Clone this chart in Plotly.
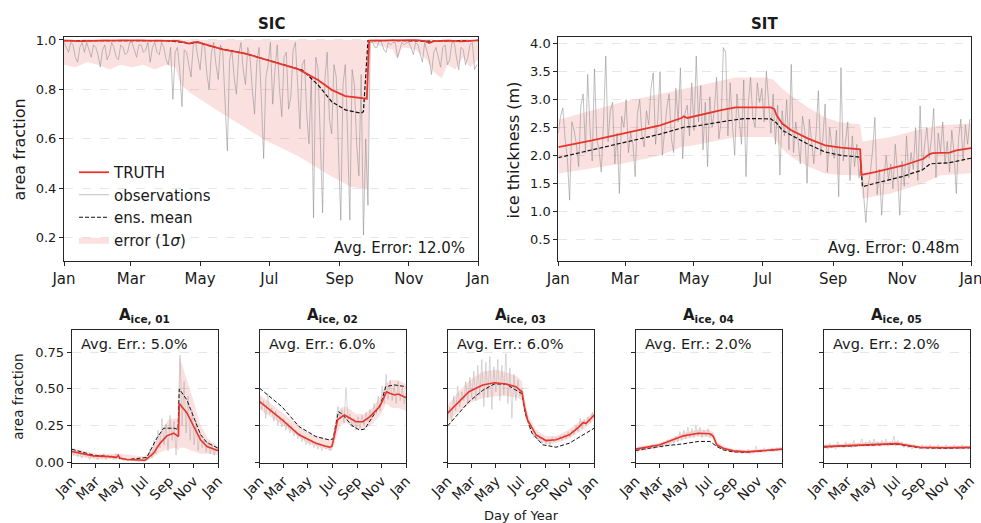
import plotly.graph_objects as go

W, H = 981, 523

MONTH_TICKS = [0, 59, 120, 181, 243, 304, 365]
MONTH_LABELS = ["Jan", "Mar", "May", "Jul", "Sep", "Nov", "Jan"]

# ---------------- SIC (top left) ----------------
SIC_OBS = [0.99, 0.97, 0.95, 0.99, 0.98, 0.93, 0.91, 0.97, 0.99, 0.95,
           0.99, 0.96, 0.93, 0.98, 0.97, 0.94, 0.89, 0.96, 0.98, 0.92,
           0.94, 0.99, 0.97, 0.93, 0.92, 0.98, 0.97, 0.94, 0.95, 0.99,
           0.99, 0.96, 0.93, 0.98, 0.98, 0.95, 0.96, 0.99, 0.91, 0.97,
           0.99, 0.95, 0.94, 0.99, 0.97, 0.92, 0.90, 0.97, 0.76,
           0.95, 0.97, 0.88, 0.73, 0.96, 0.95, 0.90, 0.85, 0.98, 0.99,
           0.93, 0.88, 0.99, 0.97, 0.86, 0.80, 0.95, 0.99, 0.90, 0.84,
           0.98, 0.95, 0.75, 0.55, 0.92, 0.96, 0.85, 0.78, 0.94, 0.99,
           0.88, 0.82, 0.97, 0.93, 0.80, 0.70, 0.91, 0.97, 0.76, 0.52,
           0.85, 0.90, 0.99, 0.74, 0.88, 0.98, 0.80, 0.69, 0.93, 0.95,
           0.72, 0.77, 0.96, 0.99, 0.82, 0.64, 0.90, 0.92, 0.70, 0.58,
           0.85, 0.28, 0.93, 0.88, 0.60, 0.30, 0.84, 0.95, 0.68, 0.62,
           0.90, 0.85, 0.55, 0.27, 0.82, 0.90, 0.62, 0.27, 0.88, 0.82,
           0.58, 0.45, 0.86, 0.21, 0.60, 0.33,
           0.99, 0.99, 0.97, 0.97, 1.00, 0.99, 0.96, 0.95, 0.99, 0.98,
           0.99, 0.99, 0.93, 0.96, 0.99, 0.98, 0.99, 0.99, 0.97, 0.94,
           0.99, 0.98, 0.95, 0.91, 0.99, 0.96, 0.92, 0.86, 0.95, 0.97,
           0.93, 0.89, 0.97, 0.98, 0.90, 0.92, 0.99, 0.99, 0.93, 0.88,
           0.97, 0.96, 0.90, 0.93, 0.98, 0.99, 0.88, 0.90]
SIC_OBS_DAYS = list(range(0, 2 * len(SIC_OBS), 2))
SIC_TRUTH_DAYS = [0, 15, 30, 45, 60, 75, 90, 100, 106, 110, 114, 118, 122, 140, 160, 177, 207, 224, 236, 248,
                  262, 267, 269, 290, 310, 318, 322, 326, 340, 350, 365]
SIC_TRUTH = [0.997, 0.995, 0.997, 0.996, 0.998, 0.997, 0.998, 0.996, 0.99, 0.985, 0.99, 0.992, 0.985, 0.962,
             0.945, 0.922, 0.881, 0.838, 0.798, 0.773, 0.764, 0.762, 0.997, 0.998, 0.999, 0.996, 0.988, 0.995,
             0.997, 0.994, 0.998]
SIC_MEAN_DAYS = [0, 30, 60, 90, 106, 110, 118, 122, 140, 160, 177, 200, 210, 224, 236, 248, 262, 264, 268, 290,
                 320, 340, 365]
SIC_MEAN = [0.997, 0.996, 0.997, 0.997, 0.99, 0.985, 0.99, 0.985, 0.962, 0.945, 0.922, 0.893, 0.878, 0.818,
            0.75, 0.717, 0.703, 0.71, 0.997, 0.998, 0.995, 0.997, 0.998]
SIC_BAND_DAYS = [0, 10, 20, 30, 40, 50, 60, 70, 80, 90, 98, 103, 110, 120, 140, 160, 177, 195, 207, 220, 236, 253,
                 268, 270, 280, 290, 294, 298, 310, 320, 326, 333, 338, 345, 352, 358, 365]
SIC_BAND_LOW = [0.90, 0.89, 0.91, 0.90, 0.88, 0.90, 0.89, 0.90, 0.88, 0.90, 0.89, 0.82, 0.79, 0.76, 0.70, 0.645,
                0.595, 0.555, 0.528, 0.49, 0.447, 0.406, 0.395, 0.99, 0.975, 0.96, 0.92, 0.97, 0.96, 0.92, 0.87,
                0.845, 0.90, 0.88, 0.93, 0.89, 0.92]
SIC_BAND_HIGH = [1.0, 1.0, 1.0, 1.0, 1.0, 1.0, 1.0, 1.0, 1.0, 1.0, 1.0, 1.0, 1.0, 1.0, 1.0, 1.0, 1.0, 1.0, 1.0,
                 1.0, 1.0, 1.0, 1.0, 1.0, 1.0, 1.0, 1.0, 1.0, 1.0, 1.0, 1.0, 1.0, 1.0, 1.0, 1.0, 1.0, 1.0]

# ---------------- SIT (top right) ----------------
SIT_OBS = [2.40, 2.70, 2.85, 2.30, 1.95, 1.20, 2.60, 2.45, 2.20, 1.80,
           2.90, 3.10, 2.05, 3.45, 2.50, 1.90, 3.55, 2.30, 2.10, 1.70,
           2.60, 3.78, 2.25, 2.80, 2.95, 1.85, 2.40, 1.32, 2.70, 2.50,
           3.00, 2.05, 2.40, 2.20, 1.62, 2.75, 3.00, 2.35, 2.15, 2.80,
           2.55, 3.20, 3.48, 2.20, 2.65, 3.50, 2.00, 2.40, 2.85, 3.10,
           2.30, 2.05, 3.20, 2.60, 3.57, 1.94, 2.75, 2.90, 2.35, 3.30,
           2.45, 3.78, 2.60, 3.25, 2.10, 2.95, 1.80, 3.05, 2.50, 2.80,
           3.40, 2.30, 2.60, 3.93, 3.85, 2.35, 3.30, 2.55, 2.00, 3.10,
           2.70, 2.20, 3.35, 1.62, 2.90, 3.40, 2.70, 2.50, 3.30, 2.95,
           3.20,
           2.60, 3.51, 2.85, 2.40, 3.10, 2.20, 2.90, 1.65, 2.80, 2.35,
           3.00, 2.10, 3.63, 2.05, 2.60, 2.30, 1.85, 2.70, 2.45, 1.50,
           2.65, 2.25, 1.85, 2.40, 3.16, 2.00, 2.30, 2.92, 1.70, 2.50,
           2.15, 1.95, 2.45, 1.26, 3.57, 1.90, 2.25, 2.60, 1.55, 2.35,
           1.80, 2.20, 1.60,
           1.90, 1.30, 0.80, 1.45, 1.70, 2.10, 2.68, 1.30, 1.75, 0.93,
           1.60, 2.00, 1.55, 1.85, 1.40, 2.20, 1.70, 0.93, 1.90, 1.45,
           2.35, 1.60, 2.05, 1.75, 2.50, 1.55, 2.89, 1.75, 2.20, 2.50,
           1.95, 2.30, 2.84, 1.60, 2.40, 2.05, 2.60, 1.85, 2.25, 1.70,
           2.45, 2.05, 1.32, 2.30, 2.65, 1.90, 2.55, 2.20, 2.65]
SIT_OBS_DAYS = list(range(0, 2 * len(SIT_OBS), 2))
SIT_TRUTH_DAYS = [0, 30, 59, 90, 109, 111, 114, 120, 145, 157, 188, 191, 193, 195, 198, 206, 221, 236, 250, 267,
                  268, 280, 294, 305, 323, 328, 331, 346, 352, 365]
SIT_TRUTH = [2.15, 2.27, 2.40, 2.54, 2.67, 2.70, 2.67, 2.70, 2.815, 2.86, 2.86, 2.83, 2.72, 2.66, 2.57, 2.45,
             2.30, 2.18, 2.14, 2.11, 1.65, 1.70, 1.77, 1.82, 1.94, 2.02, 2.04, 2.05, 2.09, 2.13]
SIT_MEAN_DAYS = [0, 30, 59, 90, 112, 120, 150, 165, 188, 193, 198, 206, 221, 236, 250, 267, 269, 280, 304, 322,
                 329, 346, 365]
SIT_MEAN = [1.96, 2.10, 2.24, 2.38, 2.51, 2.52, 2.62, 2.66, 2.655, 2.58, 2.45, 2.36, 2.20, 2.06, 2.00, 1.97,
            1.44, 1.50, 1.62, 1.74, 1.85, 1.87, 1.95]
SIT_BAND_DAYS = [0, 30, 56, 90, 109, 120, 157, 183, 190, 198, 206, 221, 236, 250, 267, 269, 294, 323, 338, 361, 365]
SIT_BAND_HIGH = [2.64, 2.80, 2.95, 3.10, 3.18, 3.24, 3.395, 3.395, 3.36, 3.20, 3.07, 2.86, 2.68, 2.59, 2.56, 2.25,
                 2.33, 2.48, 2.54, 2.566, 2.57]
SIT_BAND_LOW = [1.675, 1.77, 1.85, 2.00, 2.15, 2.18, 2.33, 2.33, 2.33, 2.12, 1.97, 1.80, 1.675, 1.65, 1.64, 1.23,
                1.32, 1.50, 1.645, 1.675, 1.68]

# ---------------- A_ice categories (bottom row) ----------------
CAT_OBS_DAYS = list(range(0, 366, 5))
A1_OBS = [0.09, 0.05, 0.08, 0.04, 0.07, 0.03, 0.06, 0.04, 0.05, 0.02, 0.06, 0.03, 0.05, 0.02, 0.05, 0.03,
          0.06, 0.02, 0.05, 0.03, 0.05, 0.02, 0.06, 0.04, 0.02, 0.03, 0.01, 0.03, 0.01, 0.02, 0.01, 0.03,
          0.01, 0.02, 0.01, 0.02, 0.01, 0.04, 0.02, 0.09, 0.03, 0.15, 0.06, 0.22, 0.10, 0.30, 0.12, 0.26,
          0.08, 0.32, 0.15, 0.28, 0.05, 0.30, 0.73, 0.25, 0.55, 0.20, 0.45, 0.15, 0.35, 0.12, 0.28, 0.08,
          0.20, 0.10, 0.16, 0.07, 0.14, 0.06, 0.12, 0.05, 0.10, 0.08]
A2_OBS = [0.45, 0.36, 0.42, 0.30, 0.47, 0.33, 0.37, 0.28, 0.35, 0.25, 0.31, 0.24, 0.30, 0.22, 0.27, 0.20,
          0.25, 0.18, 0.22, 0.16, 0.20, 0.14, 0.18, 0.12, 0.16, 0.12, 0.15, 0.10, 0.14, 0.09, 0.13, 0.08,
          0.12, 0.09, 0.12, 0.08, 0.11, 0.20, 0.28, 0.38, 0.30, 0.36, 0.27, 0.51, 0.29, 0.33, 0.24, 0.30,
          0.22, 0.31, 0.23, 0.32, 0.25, 0.34, 0.28, 0.36, 0.30, 0.40, 0.33, 0.45, 0.35, 0.52, 0.40, 0.60,
          0.43, 0.56, 0.42, 0.52, 0.40, 0.55, 0.42, 0.51, 0.40, 0.47]
A3_OBS = [0.30, 0.38, 0.28, 0.45, 0.35, 0.52, 0.38, 0.48, 0.42, 0.55, 0.40, 0.58, 0.44, 0.62, 0.42, 0.66,
          0.46, 0.70, 0.38, 0.68, 0.44, 0.72, 0.36, 0.65, 0.48, 0.70, 0.42, 0.66, 0.46, 0.74, 0.40, 0.64,
          0.30, 0.60, 0.42, 0.56, 0.45, 0.50, 0.40, 0.30, 0.28, 0.22, 0.21, 0.17, 0.19, 0.15, 0.17, 0.13,
          0.16, 0.13, 0.16, 0.12, 0.17, 0.14, 0.17, 0.15, 0.18, 0.15, 0.19, 0.16, 0.21, 0.17, 0.22, 0.19,
          0.25, 0.21, 0.30, 0.23, 0.29, 0.25, 0.31, 0.27, 0.34, 0.30]
A4_OBS = [0.09, 0.07, 0.10, 0.08, 0.11, 0.08, 0.10, 0.09, 0.12, 0.09, 0.11, 0.10, 0.13, 0.10, 0.14, 0.11,
          0.15, 0.12, 0.16, 0.13, 0.18, 0.14, 0.21, 0.15, 0.22, 0.16, 0.24, 0.17, 0.23, 0.17, 0.25, 0.18,
          0.24, 0.17, 0.22, 0.18, 0.23, 0.17, 0.20, 0.15, 0.12, 0.10, 0.11, 0.09, 0.10, 0.08, 0.09, 0.07,
          0.09, 0.07, 0.08, 0.07, 0.08, 0.06, 0.08, 0.07, 0.09, 0.06, 0.08, 0.07, 0.11, 0.07, 0.09, 0.08,
          0.10, 0.08, 0.09, 0.08, 0.10, 0.08, 0.10, 0.09, 0.10, 0.09]
A5_OBS = [0.10, 0.12, 0.09, 0.13, 0.10, 0.12, 0.09, 0.14, 0.11, 0.12, 0.10, 0.14, 0.11, 0.13, 0.10, 0.15,
          0.11, 0.13, 0.12, 0.16, 0.11, 0.14, 0.12, 0.15, 0.11, 0.16, 0.12, 0.14, 0.11, 0.15, 0.12, 0.16,
          0.11, 0.14, 0.12, 0.18, 0.11, 0.15, 0.12, 0.14, 0.10, 0.13, 0.10, 0.12, 0.09, 0.12, 0.10, 0.11,
          0.09, 0.12, 0.09, 0.11, 0.09, 0.12, 0.09, 0.11, 0.09, 0.12, 0.09, 0.11, 0.10, 0.12, 0.09, 0.11,
          0.09, 0.12, 0.10, 0.11, 0.09, 0.12, 0.10, 0.11, 0.09, 0.11]

A1_TRUTH_DAYS = [0, 54, 95, 112, 116, 120, 137, 183, 204, 220, 237, 254, 266, 268, 287, 304, 321, 337, 365]
A1_TRUTH = [0.075, 0.045, 0.04, 0.035, 0.05, 0.03, 0.02, 0.015, 0.063, 0.13, 0.181, 0.199, 0.176, 0.40, 0.337,
            0.245, 0.154, 0.109, 0.08]
A1_MEAN_DAYS = [0, 54, 95, 137, 187, 212, 229, 255, 265, 268, 287, 321, 337, 365]
A1_MEAN = [0.09, 0.05, 0.04, 0.02, 0.034, 0.165, 0.233, 0.233, 0.225, 0.50, 0.425, 0.19, 0.135, 0.097]
A1_BAND_DAYS = [0, 60, 120, 180, 200, 220, 240, 260, 266, 268, 280, 300, 320, 340, 365]
A1_BAND_HIGH = [0.10, 0.06, 0.06, 0.04, 0.09, 0.20, 0.29, 0.30, 0.28, 0.72, 0.62, 0.45, 0.26, 0.16, 0.11]
A1_BAND_LOW = [0.05, 0.02, 0.02, 0.0, 0.03, 0.07, 0.09, 0.10, 0.08, 0.10, 0.10, 0.08, 0.06, 0.06, 0.05]

A2_TRUTH_DAYS = [0, 56, 98, 140, 173, 180, 186, 194, 211, 224, 240, 257, 274, 299, 316, 324, 336, 345, 365]
A2_TRUTH = [0.413, 0.289, 0.188, 0.131, 0.104, 0.11, 0.18, 0.29, 0.323, 0.30, 0.277, 0.277, 0.31, 0.38, 0.48,
            0.47, 0.459, 0.465, 0.44]
A2_MEAN_DAYS = [0, 56, 98, 140, 173, 183, 196, 205, 230, 249, 262, 277, 302, 314, 335, 365]
A2_MEAN = [0.504, 0.377, 0.244, 0.176, 0.154, 0.16, 0.345, 0.33, 0.25, 0.22, 0.228, 0.29, 0.40, 0.515, 0.527, 0.515]
A2_BAND_DAYS = [0, 60, 120, 180, 186, 200, 215, 240, 260, 280, 300, 315, 330, 345, 365]
A2_BAND_HIGH = [0.46, 0.33, 0.20, 0.15, 0.23, 0.37, 0.38, 0.33, 0.33, 0.37, 0.44, 0.54, 0.56, 0.56, 0.53]
A2_BAND_LOW = [0.36, 0.25, 0.13, 0.08, 0.13, 0.25, 0.27, 0.23, 0.23, 0.26, 0.32, 0.40, 0.37, 0.37, 0.35]

A3_TRUTH_DAYS = [0, 28, 53, 87, 116, 145, 170, 185, 191, 199, 220, 245, 270, 303, 328, 337, 345, 365]
A3_TRUTH = [0.335, 0.413, 0.481, 0.526, 0.542, 0.533, 0.515, 0.48, 0.38, 0.29, 0.188, 0.149, 0.154, 0.188, 0.244,
            0.271, 0.266, 0.323]
A3_MEAN_DAYS = [0, 53, 87, 116, 145, 185, 193, 210, 237, 270, 303, 337, 365]
A3_MEAN = [0.249, 0.413, 0.49, 0.533, 0.533, 0.467, 0.335, 0.199, 0.12, 0.104, 0.131, 0.188, 0.233]
A3_BAND_DAYS = [0, 30, 60, 90, 120, 150, 175, 185, 192, 200, 220, 245, 270, 300, 330, 345, 365]
A3_BAND_HIGH = [0.39, 0.49, 0.57, 0.62, 0.63, 0.61, 0.58, 0.55, 0.43, 0.33, 0.22, 0.18, 0.18, 0.22, 0.28, 0.30, 0.35]
A3_BAND_LOW = [0.28, 0.35, 0.41, 0.44, 0.45, 0.45, 0.44, 0.42, 0.33, 0.25, 0.16, 0.12, 0.13, 0.16, 0.21, 0.24, 0.29]

A4_TRUTH_DAYS = [0, 60, 119, 156, 185, 193, 202, 218, 243, 276, 310, 365]
A4_TRUTH = [0.091, 0.12, 0.181, 0.199, 0.195, 0.18, 0.12, 0.097, 0.079, 0.072, 0.079, 0.091]
A4_MEAN_DAYS = [0, 60, 119, 156, 185, 202, 218, 243, 276, 310, 365]
A4_MEAN = [0.082, 0.109, 0.127, 0.143, 0.143, 0.109, 0.086, 0.072, 0.07, 0.077, 0.09]
A4_BAND_DAYS = [0, 60, 120, 155, 185, 195, 205, 220, 245, 280, 320, 365]
A4_BAND_HIGH = [0.105, 0.135, 0.20, 0.225, 0.22, 0.20, 0.14, 0.11, 0.09, 0.085, 0.09, 0.105]
A4_BAND_LOW = [0.075, 0.10, 0.16, 0.175, 0.17, 0.16, 0.10, 0.085, 0.068, 0.06, 0.067, 0.077]

A5_TRUTH_DAYS = [0, 60, 120, 182, 200, 240, 300, 365]
A5_TRUTH = [0.108, 0.115, 0.125, 0.128, 0.12, 0.104, 0.10, 0.103]
A5_MEAN_DAYS = [0, 60, 120, 182, 200, 240, 300, 365]
A5_MEAN = [0.105, 0.112, 0.122, 0.125, 0.117, 0.10, 0.097, 0.10]
A5_BAND_DAYS = [0, 120, 182, 240, 365]
A5_BAND_HIGH = [0.12, 0.14, 0.142, 0.115, 0.115]
A5_BAND_LOW = [0.095, 0.11, 0.113, 0.09, 0.09]

CAT_TITLES = ["01", "02", "03", "04", "05"]
CAT_ERRORS = ["5.0%", "6.0%", "6.0%", "2.0%", "2.0%"]

# ---------------- styling ----------------
FONT = "DejaVu Sans"
TXT = "#1a1a1a"
RED = "#e8352c"
BAND = "rgba(232,70,70,0.17)"
OBS_TOP = "rgba(140,140,140,0.55)"
OBS_BOT = "rgba(150,150,150,0.35)"
AXC = "#262626"
GRID = "#e6e6e6"


def px(x):
    return x / W


def py(y):
    return 1 - y / H


fig = go.Figure()


def add_panel(idx, obs_days, obs, band_days, hi, lo, tdays, truth, mdays, mean, top, legend=False):
    xa = "x" if idx == 1 else f"x{idx}"
    ya = "y" if idx == 1 else f"y{idx}"
    fig.add_trace(go.Scatter(x=band_days + band_days[::-1], y=hi + lo[::-1], fill="toself",
                             fillcolor=BAND, line=dict(width=0), mode="lines",
                             name="error (1<i>σ</i>)", showlegend=legend, legendrank=4,
                             xaxis=xa, yaxis=ya, hoverinfo="skip"))
    fig.add_trace(go.Scatter(x=obs_days, y=obs, mode="lines",
                             line=dict(color=OBS_TOP if top else OBS_BOT, width=1),
                             name="observations", showlegend=legend, legendrank=2,
                             xaxis=xa, yaxis=ya))
    fig.add_trace(go.Scatter(x=mdays, y=mean, mode="lines",
                             line=dict(color="#111111", width=1.2 if top else 1.0, dash="4px,2px"),
                             name="ens. mean", showlegend=legend, legendrank=3,
                             xaxis=xa, yaxis=ya))
    fig.add_trace(go.Scatter(x=tdays, y=truth, mode="lines",
                             line=dict(color=RED, width=1.8 if top else 1.6),
                             name="TRUTH", showlegend=legend, legendrank=1,
                             xaxis=xa, yaxis=ya))


add_panel(1, SIC_OBS_DAYS, SIC_OBS, SIC_BAND_DAYS, SIC_BAND_HIGH, SIC_BAND_LOW,
          SIC_TRUTH_DAYS, SIC_TRUTH, SIC_MEAN_DAYS, SIC_MEAN, True, legend=True)
add_panel(2, SIT_OBS_DAYS, SIT_OBS, SIT_BAND_DAYS, SIT_BAND_HIGH, SIT_BAND_LOW,
          SIT_TRUTH_DAYS, SIT_TRUTH, SIT_MEAN_DAYS, SIT_MEAN, True)
cats = [
    (A1_OBS, A1_BAND_DAYS, A1_BAND_HIGH, A1_BAND_LOW, A1_TRUTH_DAYS, A1_TRUTH, A1_MEAN_DAYS, A1_MEAN),
    (A2_OBS, A2_BAND_DAYS, A2_BAND_HIGH, A2_BAND_LOW, A2_TRUTH_DAYS, A2_TRUTH, A2_MEAN_DAYS, A2_MEAN),
    (A3_OBS, A3_BAND_DAYS, A3_BAND_HIGH, A3_BAND_LOW, A3_TRUTH_DAYS, A3_TRUTH, A3_MEAN_DAYS, A3_MEAN),
    (A4_OBS, A4_BAND_DAYS, A4_BAND_HIGH, A4_BAND_LOW, A4_TRUTH_DAYS, A4_TRUTH, A4_MEAN_DAYS, A4_MEAN),
    (A5_OBS, A5_BAND_DAYS, A5_BAND_HIGH, A5_BAND_LOW, A5_TRUTH_DAYS, A5_TRUTH, A5_MEAN_DAYS, A5_MEAN),
]
for i, c in enumerate(cats):
    add_panel(3 + i, CAT_OBS_DAYS, c[0], c[1], c[2], c[3], c[4], c[5], c[6], c[7], False)

layout = dict(
    width=W, height=H, margin=dict(l=0, r=0, t=0, b=0),
    paper_bgcolor="white", plot_bgcolor="white",
    font=dict(family=FONT, color=TXT),
    showlegend=True,
    legend=dict(x=px(74), y=py(156), xanchor="left", yanchor="top", bgcolor="rgba(0,0,0,0)",
                font=dict(size=15, family=FONT, color=TXT), itemwidth=30, tracegroupgap=0),
)


def xaxis_def(domain, anchor, top):
    return dict(domain=domain, anchor=anchor, range=[0, 365], tickmode="array",
                tickvals=MONTH_TICKS, ticktext=MONTH_LABELS, ticks="outside", ticklen=4,
                tickcolor=AXC, showline=True, linecolor=AXC, linewidth=1, mirror=True,
                showgrid=False, zeroline=False, tickangle=0 if top else -45,
                ticklabeloverflow="allow",
                tickfont=dict(size=15 if top else 14, family=FONT, color=TXT), automargin=False)


def yaxis_def(domain, anchor, rng, tickvals, ticktext, labels=True, size=13):
    return dict(domain=domain, anchor=anchor, range=rng, tickmode="array", tickvals=tickvals,
                ticktext=ticktext, ticks="outside", ticklen=4, tickcolor=AXC, showline=True,
                linecolor=AXC, linewidth=1, mirror=True, showgrid=True, gridcolor=GRID,
                griddash="dash", gridwidth=1, zeroline=False, showticklabels=labels,
                tickfont=dict(size=size, family=FONT, color=TXT), automargin=False)


top_y = [py(261), py(37)]
layout["xaxis"] = xaxis_def([px(64), px(478)], "y", True)
layout["yaxis"] = yaxis_def(top_y, "x", [0.105, 1.012], [0.2, 0.4, 0.6, 0.8, 1.0],
                            ["0.2", "0.4", "0.6", "0.8", "1.0"])
layout["xaxis2"] = xaxis_def([px(558.3), px(971)], "y2", True)
sit_ticks = [0.5, 1.0, 1.5, 2.0, 2.5, 3.0, 3.5, 4.0]
layout["yaxis2"] = yaxis_def(top_y, "x2", [0.11, 4.12], sit_ticks, [f"{v:.1f}" for v in sit_ticks])

bot_y = [py(462.5), py(330)]
bot_left = [71.7, 259.7, 447.7, 635.7, 823.7]
bot_w = 146.5
cat_ticks = [0, 0.25, 0.5, 0.75]
for i, l in enumerate(bot_left):
    n = 3 + i
    layout[f"xaxis{n}"] = xaxis_def([px(l), px(l + bot_w)], f"y{n}", False)
    layout[f"yaxis{n}"] = yaxis_def(bot_y, f"x{n}", [0, 0.9], cat_ticks,
                                    ["0.00", "0.25", "0.50", "0.75"], labels=(i == 0), size=13)

ann = []
ann.append(dict(text="<b>SIC</b>", x=px(271), y=py(24), font=dict(size=15)))
ann.append(dict(text="<b>SIT</b>", x=px(764.6), y=py(24), font=dict(size=15)))
ann.append(dict(text="Avg. Error: 12.0%", x=px(467), y=py(248), xanchor="right", font=dict(size=15)))
ann.append(dict(text="Avg. Error: 0.48m", x=px(961), y=py(248), xanchor="right", font=dict(size=15)))
ann.append(dict(text="area fraction", x=px(18.5), y=py(150), textangle=-90, font=dict(size=16)))
ann.append(dict(text="ice thickness (m)", x=px(512.5), y=py(150), textangle=-90, font=dict(size=16)))
ann.append(dict(text="area fraction", x=px(18), y=py(396.7), textangle=-90, font=dict(size=13.5)))
ann.append(dict(text="Day of Year", x=px(521), y=py(515), font=dict(size=13)))
for i, l in enumerate(bot_left):
    ann.append(dict(text=f"<b>A<sub>ice, {CAT_TITLES[i]}</sub></b>", x=px(l + bot_w / 2), y=py(315),
                    font=dict(size=15)))
    ann.append(dict(text=f"Avg. Err.: {CAT_ERRORS[i]}", x=px(l + 7.6), y=py(344), xanchor="left",
                    font=dict(size=14.5)))
for a in ann:
    a.setdefault("xanchor", "center")
    a.update(xref="paper", yref="paper", yanchor="middle", showarrow=False)
    a["font"].update(family=FONT, color=TXT)
layout["annotations"] = ann

fig.update_layout(**layout)
fig.write_html("out.html")
